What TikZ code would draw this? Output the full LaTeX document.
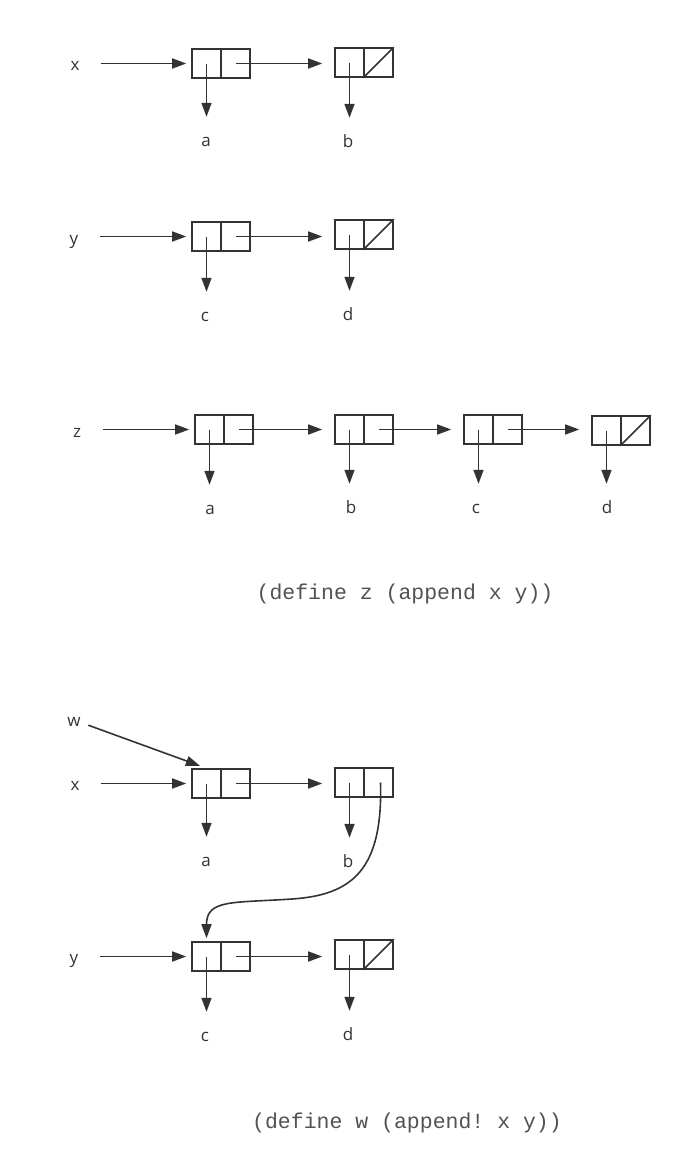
\documentclass[tikz,border=0pt]{standalone}
\usepackage{fontspec}
\setmainfont{Open Sans}
\setmonofont{Liberation Mono}
\usetikzlibrary{arrows.meta}
\definecolor{ink}{HTML}{333333}

\begin{document}
\begin{tikzpicture}[x=1pt,y=-1pt,
    cell/.style={draw=ink,line width=1.6pt,minimum width=29pt,minimum height=29pt,inner sep=0pt},
    ptr/.style={ink,line width=1.6pt,-{Triangle[length=14pt,width=10pt]}},
    car/.style={ptr,shorten >=17pt},cdr/.style={ptr,shorten >=12pt},
    var/.style={ptr,shorten <=26pt,shorten >=5pt},
    lbl/.style={text=ink,inner sep=0pt,font=\fontsize{17}{20}\selectfont,text height=12pt,text depth=0pt},
    code/.style={text=ink!85,font=\ttfamily\fontsize{21.5}{24}\selectfont}]
  \useasboundingbox (0,0) rectangle (682,1168);

  % x = (a b)
  \node(var x)[lbl] at (75,64) {x};
  \node(x1 car)[cell] at (206.5,63.5) {};
  \node(x1 cdr)[cell] at (235.5,63.5) {};
  \node(x2 car)[cell] at (349.5,62.5) {};
  \node(x2 cdr)[cell] at (378.5,62.5) {};
  \draw[ink,line width=1.6pt] (x2 cdr.south west) -- (x2 cdr.north east);
  \node(a1)[lbl] at (206,140) {a};
  \node(b1)[lbl] at (348,141) {b};
  \draw[var] (x1 car.west -| var x) -- (x1 car.west);
  \draw[car] (x1 car.center) -- (x1 car.center |- a1.north);
  \draw[cdr] (x1 cdr.center) -- (x1 cdr.center -| x2 car.west);
  \draw[car] (x2 car.center) -- (x2 car.center |- b1.north);

  % y = (c d)
  \node(var y)[lbl] at (74,238) {y};
  \node(y1 car)[cell] at (206.5,236.5) {};
  \node(y1 cdr)[cell] at (235.5,236.5) {};
  \node(y2 car)[cell] at (349.5,234.5) {};
  \node(y2 cdr)[cell] at (378.5,234.5) {};
  \draw[ink,line width=1.6pt] (y2 cdr.south west) -- (y2 cdr.north east);
  \node(c1)[lbl] at (205,315) {c};
  \node(d1)[lbl] at (348,314) {d};
  \draw[var] (y1 car.west -| var y) -- (y1 car.west);
  \draw[car] (y1 car.center) -- (y1 car.center |- c1.north);
  \draw[cdr] (y1 cdr.center) -- (y1 cdr.center -| y2 car.west);
  \draw[car] (y2 car.center) -- (y2 car.center |- d1.north);

  % z = (a b c d)
  \node(var z)[lbl] at (77,431) {z};
  \node(z1 car)[cell] at (209.5,429.5) {};
  \node(z1 cdr)[cell] at (238.5,429.5) {};
  \node(z2 car)[cell] at (349.5,429.5) {};
  \node(z2 cdr)[cell] at (378.5,429.5) {};
  \node(z3 car)[cell] at (478.5,429.5) {};
  \node(z3 cdr)[cell] at (507.5,429.5) {};
  \node(z4 car)[cell] at (606.5,430.5) {};
  \node(z4 cdr)[cell] at (635.5,430.5) {};
  \draw[ink,line width=1.6pt] (z4 cdr.south west) -- (z4 cdr.north east);
  \node(a2)[lbl] at (210,508) {a};
  \node(b2)[lbl] at (351,507) {b};
  \node(c2)[lbl] at (476,507) {c};
  \node(d2)[lbl] at (607,507) {d};
  \draw[var] (z1 car.west -| var z) -- (z1 car.west);
  \draw[car] (z1 car.center) -- (z1 car.center |- a2.north);
  \draw[cdr] (z1 cdr.center) -- (z1 cdr.center -| z2 car.west);
  \draw[car] (z2 car.center) -- (z2 car.center |- b2.north);
  \draw[cdr] (z2 cdr.center) -- (z2 cdr.center -| z3 car.west);
  \draw[car] (z3 car.center) -- (z3 car.center |- c2.north);
  \draw[cdr] (z3 cdr.center) -- (z3 cdr.center -| z4 car.west);
  \draw[car] (z4 car.center) -- (z4 car.center |- d2.north);
  \node(append)[code] at (405,594) {(define z (append x y))};

  % w = (append! x y)
  \node(var w)[lbl] at (74,720) {w};
  \node(var x2)[lbl] at (75,784) {x};
  \node(w1 car)[cell] at (206.5,783.5) {};
  \node(w1 cdr)[cell] at (235.5,783.5) {};
  \node(w2 car)[cell] at (349.5,782.5) {};
  \node(w2 cdr)[cell] at (378.5,782.5) {};
  \node(a3)[lbl] at (206,860) {a};
  \node(b3)[lbl] at (348,861) {b};
  \draw[ptr,shorten <=8pt,shorten >=7pt] (var w) -- (w1 car.north);
  \draw[var] (w1 car.west -| var x2) -- (w1 car.west);
  \draw[car] (w1 car.center) -- (w1 car.center |- a3.north);
  \draw[cdr] (w1 cdr.center) -- (w1 cdr.center -| w2 car.west);
  \draw[car] (w2 car.center) -- (w2 car.center |- b3.north);

  \node(var y2)[lbl] at (74,957) {y};
  \node(v1 car)[cell] at (206.5,956.5) {};
  \node(v1 cdr)[cell] at (235.5,956.5) {};
  \node(v2 car)[cell] at (349.5,954.5) {};
  \node(v2 cdr)[cell] at (378.5,954.5) {};
  \draw[ink,line width=1.6pt] (v2 cdr.south west) -- (v2 cdr.north east);
  \node(c3)[lbl] at (205,1035) {c};
  \node(d3)[lbl] at (348,1034) {d};
  \draw[var] (v1 car.west -| var y2) -- (v1 car.west);
  \draw[car] (v1 car.center) -- (v1 car.center |- c3.north);
  \draw[cdr] (v1 cdr.center) -- (v1 cdr.center -| v2 car.west);
  \draw[car] (v2 car.center) -- (v2 car.center |- d3.north);

  % set-cdr! of the last pair
  \draw[ptr,shorten >=3pt] ([xshift=2pt]w2 cdr.center) .. controls +(2.5,87.5) and +(60,-4) .. ++(-88.5,116.5)
    .. controls +(-60,4) and +(0,-42) .. (v1 car.north);
  \node(append!)[code] at (407,1123) {(define w (append! x y))};
\end{tikzpicture}
\end{document}
